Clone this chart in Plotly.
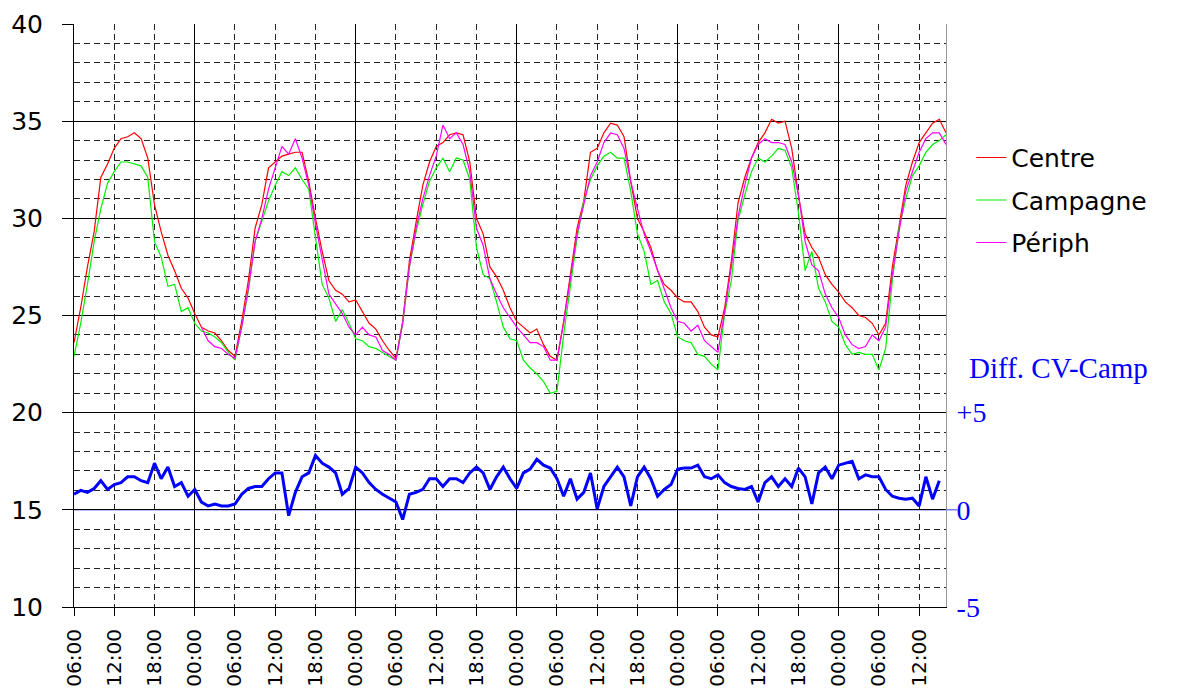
import plotly.graph_objects as go

# hours since 06:00 on day 1
hours = list(range(131))
tick_hours = list(range(0, 127, 6))
tick_labels = ["06:00", "12:00", "18:00", "00:00"] * 5 + ["06:00", "12:00"]
midnight_hours = [18, 42, 66, 90, 114]
diff_baseline = 0

centre = [23.6, 25.4, 27.5, 29.3, 32.1, 32.8, 33.6, 34.1, 34.2, 34.4,
          34.1, 33.1, 30.7, 29.3, 28.1, 27.3, 26.4, 25.9, 25.1, 24.4,
          24.2, 24.1, 23.7, 23.2, 22.9, 24.7, 26.8, 29.5, 30.7, 32.6,
          32.9, 33.2, 33.3, 33.4, 33.4, 31.9, 30.0, 28.3, 26.8, 26.3,
          26.1, 25.7, 25.8, 25.2, 24.6, 24.3, 23.7, 23.2, 22.8, 24.7,
          27.8, 29.8, 31.7, 32.9, 33.7, 33.9, 34.3, 34.4, 34.3, 32.9,
          30.0, 29.2, 27.5, 27.0, 26.3, 25.4, 24.7, 24.4, 24.1, 24.3,
          23.5, 22.9, 22.7, 24.7, 27.1, 29.5, 30.9, 33.4, 33.6, 34.4,
          34.9, 34.8, 34.2, 31.9, 30.0, 29.3, 28.5, 27.3, 26.6, 26.3,
          25.9, 25.7, 25.7, 25.2, 24.4, 24.0, 23.9, 25.4, 27.8, 30.8,
          32.1, 33.1, 33.9, 34.4, 35.1, 34.9, 35.0, 33.6, 31.2, 29.2,
          28.5, 28.0, 27.1, 26.6, 26.2, 25.7, 25.4, 25.0, 24.9, 24.6,
          24.0, 24.6, 27.5, 29.6, 31.7, 32.9, 33.9, 34.4, 34.9, 35.1,
          34.4]

campagne = [22.9, 24.6, 26.6, 28.8, 30.5, 31.8, 32.4, 32.9, 32.9, 32.8,
            32.7, 32.1, 28.8, 28.0, 26.5, 26.6, 25.2, 25.4, 24.6, 24.2,
            24.1, 23.9, 23.6, 23.1, 22.7, 24.4, 26.3, 28.8, 29.8, 30.9,
            31.7, 32.4, 32.2, 32.6, 32.0, 31.5, 29.0, 26.6, 25.9, 24.7,
            25.3, 24.6, 23.8, 23.7, 23.4, 23.3, 23.1, 22.9, 22.7, 24.6,
            27.5, 29.3, 30.7, 31.9, 32.6, 33.1, 32.4, 33.1, 33.0, 32.0,
            28.5, 27.1, 26.9, 25.7, 24.4, 23.8, 23.7, 22.7, 22.3, 22.0,
            21.6, 21.0, 21.1, 24.0, 26.4, 29.0, 30.9, 32.0, 32.7, 33.2,
            33.4, 33.1, 33.1, 31.4, 29.2, 28.3, 26.6, 26.8, 25.7, 25.1,
            23.9, 23.7, 23.6, 23.0, 22.9, 22.5, 22.2, 25.1, 26.8, 29.9,
            31.2, 32.4, 33.1, 32.9, 33.2, 33.6, 33.5, 32.6, 30.3, 27.3,
            28.3, 26.4, 25.7, 24.7, 24.4, 23.5, 23.0, 23.1, 23.0, 23.0,
            22.2, 23.3, 26.8, 29.5, 31.0, 32.2, 32.7, 33.4, 33.8, 34.0,
            34.3]

periph = [None] * 19 + [
          24.4, 23.7, 23.4, 23.3, 23.0, 22.8, 24.4, 26.4, 28.8, 30.0,
          31.5, 32.6, 33.7, 33.3, 34.1, 33.1, 31.7, 29.7, 27.8, 26.1,
          25.6, 25.1, 24.4, 24.0, 24.4, 24.0, 23.9, 23.2, 23.0, 22.7,
          24.6, 27.5, 29.5, 31.0, 32.2, 33.2, 34.8, 34.1, 34.4, 33.8,
          32.4, 29.5, 28.6, 26.9, 26.1, 25.4, 24.9, 24.4, 24.0, 23.6,
          23.6, 23.4, 22.7, 22.7, 24.6, 26.8, 29.2, 30.7, 32.2, 32.9,
          33.9, 34.4, 34.3, 33.6, 31.9, 30.5, 29.2, 28.3, 27.3, 26.3,
          25.4, 24.7, 24.6, 24.2, 24.5, 23.7, 23.4, 23.1, 25.2, 27.5,
          30.1, 31.7, 33.1, 33.8, 34.1, 33.9, 33.9, 33.8, 32.9, 31.2,
          28.8, 27.6, 27.3, 26.1, 25.4, 24.9, 24.0, 23.5, 23.3, 23.4,
          24.0, 23.7, 24.4, 27.1, 29.3, 31.4, 32.4, 33.4, 34.1, 34.4,
          34.4, 33.8]

diff_cv_camp = [0.8, 1.0, 0.9, 1.1, 1.5, 1.05, 1.3, 1.4, 1.7, 1.7,
                1.5, 1.4, 2.4, 1.6, 2.2, 1.2, 1.4, 0.7, 1.05, 0.4,
                0.2, 0.3, 0.2, 0.2, 0.3, 0.8, 1.1, 1.2, 1.2, 1.6,
                1.9, 1.9, -0.3, 0.9, 1.7, 1.9, 2.8, 2.4, 2.2, 1.9,
                0.8, 1.1, 2.2, 1.9, 1.4, 1.05, 0.8, 0.6, 0.4, -0.5,
                0.8, 0.9, 1.05, 1.6, 1.6, 1.2, 1.6, 1.6, 1.4, 1.9,
                2.2, 1.9, 1.05, 1.7, 2.2, 1.6, 1.1, 1.9, 2.1, 2.6,
                2.3, 2.15, 1.6, 0.7, 1.6, 0.55, 0.9, 1.9, 0.05, 1.2,
                1.7, 2.2, 1.7, 0.2, 1.7, 2.2, 1.6, 0.7, 1.05, 1.3,
                2.1, 2.15, 2.15, 2.3, 1.7, 1.6, 1.8, 1.4, 1.2, 1.1,
                1.05, 1.2, 0.4, 1.4, 1.7, 1.2, 1.6, 1.2, 2.15, 1.7,
                0.3, 1.9, 2.2, 1.6, 2.3, 2.4, 2.5, 1.6, 1.8, 1.7,
                1.7, 1.05, 0.7, 0.6, 0.55, 0.6, 0.2, 1.7, 0.55, 1.5]

fig = go.Figure()
fig.add_trace(go.Scatter(x=hours, y=centre, name="Centre", mode="lines",
                         line=dict(color="#ff0000", width=1.2), legendgroup="a"))
fig.add_trace(go.Scatter(x=hours, y=campagne, name="Campagne", mode="lines",
                         line=dict(color="#00f000", width=1.2), legendgroup="b"))
fig.add_trace(go.Scatter(x=hours, y=periph, name="Périph", mode="lines",
                         line=dict(color="#ff00ff", width=1.2), legendgroup="c"))
fig.add_trace(go.Scatter(x=hours[:len(diff_cv_camp)], y=diff_cv_camp, name="Diff. CV-Camp",
                         mode="lines", line=dict(color="#0000ff", width=3),
                         xaxis="x2", yaxis="y2", showlegend=False))

# blue baseline of the difference scale (extends slightly past the plot edge)
fig.add_shape(type="line", xref="paper", yref="y2", x0=0, x1=1.013,
              y0=diff_baseline, y1=diff_baseline, layer="between",
              line=dict(color="#2a3cff", width=1))

dash = "6px,4px"
fig.update_layout(
    template="none",
    width=1180, height=688,
    margin=dict(l=66, r=242, t=16, b=89, autoexpand=False),
    plot_bgcolor="white", paper_bgcolor="white",
    legend=dict(x=1.029, y=0.81, xanchor="left", yanchor="top",
                font=dict(family="DejaVu Sans", size=25, color="black"),
                tracegroupgap=7, bgcolor="rgba(0,0,0,0)", itemwidth=30),
    xaxis=dict(range=[0, 130], tickmode="array", tickvals=tick_hours, ticktext=tick_labels,
               tickangle=-90, tickfont=dict(family="DejaVu Sans", size=20, color="black"),
               ticks="outside", ticklen=8, tickcolor="black", automargin=False,
               showgrid=True, gridcolor="#222", griddash=dash, gridwidth=1,
               showline=True, linecolor="black", zeroline=False, ticklabelstandoff=5),
    xaxis2=dict(range=[0, 130], overlaying="x", matches="x", anchor="y2", automargin=False,
                tickmode="array", tickvals=midnight_hours, showticklabels=False, ticks="",
                showgrid=True, gridcolor="black", gridwidth=1, zeroline=False, showline=False),
    yaxis=dict(range=[10, 40], tick0=10, dtick=5, ticks="outside", ticklen=11, tickcolor="black",
               tickfont=dict(family="DejaVu Sans", size=25, color="black"), automargin=False,
               showgrid=True, gridcolor="black", gridwidth=1,
               showline=True, linecolor="black", zeroline=False, ticklabelstandoff=14,
               minor=dict(dtick=1, tick0=10, showgrid=True, gridcolor="#222",
                          griddash=dash, gridwidth=1, ticks="")),
    yaxis2=dict(range=[-5, 25], overlaying="y", side="right", anchor="x", automargin=False,
                tickmode="array", tickvals=[-5, 0, 5], ticktext=["-5", "0", "+5"],
                tickfont=dict(family="Liberation Serif", size=28, color="#0000ff"),
                showgrid=False, zeroline=False,
                showline=True, linecolor="#999999", ticks="", ticklabelstandoff=4),
    annotations=[dict(text="Diff. CV-Camp", xref="paper", yref="paper", x=1.024, y=0.41,
                      xanchor="left", yanchor="middle", showarrow=False,
                      font=dict(family="Liberation Serif", size=29, color="#0000ff"))],
)

fig.write_html("out.html")
